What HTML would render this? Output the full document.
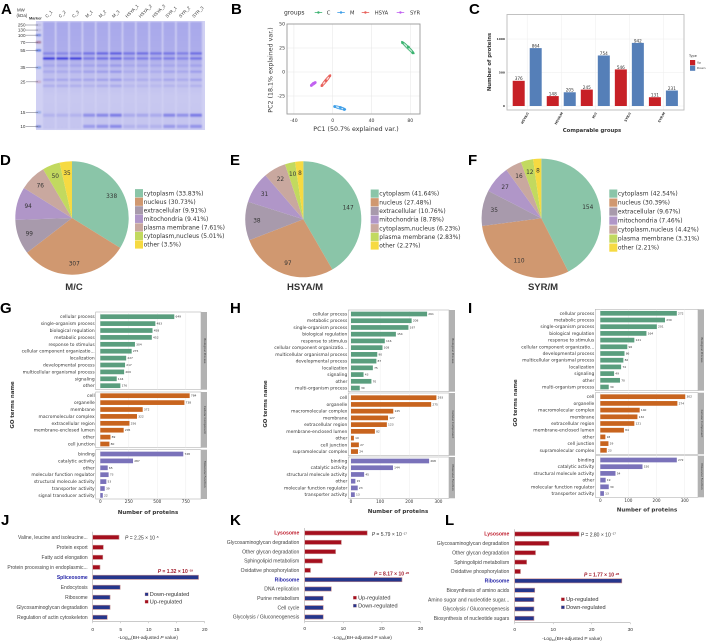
<!DOCTYPE html>
<html lang="en">
<head>
<meta charset="utf-8">
<title>Proteomics figure</title>
<style>
html,body{margin:0;padding:0;background:#fff;width:708px;height:644px;overflow:hidden}
svg{display:block;filter:blur(0.25px)}
text{font-family:"DejaVu Sans","Liberation Sans",sans-serif;fill:#333}
.lib text,text.lib{font-family:"Liberation Sans",sans-serif}
</style>
</head>
<body>
<svg id="figure" width="708" height="644" viewBox="0 0 708 644" xmlns="http://www.w3.org/2000/svg">
<defs>
<linearGradient id="laneGrad" x1="0" y1="0" x2="0" y2="1">
<stop offset="0" stop-color="#a8a8ea"/><stop offset="0.33" stop-color="#aeaeeb"/><stop offset="0.45" stop-color="#bcbcee"/><stop offset="0.7" stop-color="#c8c8f0"/><stop offset="1" stop-color="#c4c4ef"/>
</linearGradient>
<filter id="gelBlur" x="-5%" y="-5%" width="110%" height="110%"><feGaussianBlur stdDeviation="0.9"/></filter>
</defs>
<g id="panel-a"></g>
<g id="panel-b"></g>
<g id="panel-c"></g>
<g id="panel-d"></g>
<g id="panel-e"></g>
<g id="panel-f"></g>
<g id="panel-g"></g>
<g id="panel-h"></g>
<g id="panel-i"></g>
<g id="panel-j"></g>
<g id="panel-k"></g>
<g id="panel-l"></g>
<g id="panel-letters" font-weight="bold">
<text x="1" y="14" font-size="15" style="font-family:'Liberation Sans',sans-serif;fill:#000">A</text>
<text x="231" y="14" font-size="15" style="font-family:'Liberation Sans',sans-serif;fill:#000">B</text>
<text x="469" y="14" font-size="15" style="font-family:'Liberation Sans',sans-serif;fill:#000">C</text>
<text x="0" y="165" font-size="15" style="font-family:'Liberation Sans',sans-serif;fill:#000">D</text>
<text x="230" y="165" font-size="15" style="font-family:'Liberation Sans',sans-serif;fill:#000">E</text>
<text x="468" y="165" font-size="15" style="font-family:'Liberation Sans',sans-serif;fill:#000">F</text>
<text x="0" y="313" font-size="15" style="font-family:'Liberation Sans',sans-serif;fill:#000">G</text>
<text x="230" y="313" font-size="15" style="font-family:'Liberation Sans',sans-serif;fill:#000">H</text>
<text x="468" y="313" font-size="15" style="font-family:'Liberation Sans',sans-serif;fill:#000">I</text>
<text x="1" y="525" font-size="15" style="font-family:'Liberation Sans',sans-serif;fill:#000">J</text>
<text x="230" y="525" font-size="15" style="font-family:'Liberation Sans',sans-serif;fill:#000">K</text>
<text x="445" y="525" font-size="15" style="font-family:'Liberation Sans',sans-serif;fill:#000">L</text>
</g>
</svg>
<script>
/* ---------- Panel A data ---------- */
const ladderKDa = [250,130,100,70,55,35,25,15,10];
const ladderRf = [0,0.05,0.1,0.17,0.25,0.42,0.56,0.86,1];
const laneNames = ['C_1','C_2','C_3','M_1','M_2','M_3','HSYA_1','HSYA_2','HSYA_3','SYR_1','SYR_2','SYR_3'];
const laneLoad = [1,1,1,0.85,1,1.2,0.9,1,0.9,1,0.8,1.15];
const bandRf = [0.28,0.33,0.40,0.46,0.54,0.60,0.885,0.995];
const bandC = [0.3,0.95,0.14,0.14,0.18,0.14,0.12,0];
const bandM = [0.55,0.5,0.18,0.22,0.22,0.14,0.4,0.32];
const bandHSYA = [0.5,0.4,0.14,0.14,0.14,0.08,0.2,0.12];
const bandSYR = [0.45,0.4,0.14,0.18,0.18,0.1,0.42,0.28];

/* ---------- Panel B data ---------- */
const pcaGroups = ['C','M','HSYA','SYR'];
const pcaColors = ['#3cb371','#3f9fe8','#e8605a','#c060f0'];
const pcaC1 = [72,78,82.5];
const pcaC2 = [30.5,26,20];
const pcaM1 = [2,8,12];
const pcaM2 = [-36,-37,-39];
const pcaH1 = [-3,-7,-11];
const pcaH2 = [-4,-9,-14];
const pcaS1 = [-22,-20,-18];
const pcaS2 = [-14,-12,-11];
const pcaXTicks = [-40,0,40,80];
const pcaYTicks = [-25,0,25,50];

/* ---------- Panel C data ---------- */
const compareGroups = ['HSYA/C','HSYA/M','M/C','SYR/C','SYR/M'];
const upCounts = [376,148,245,546,131];
const downCounts = [864,205,754,942,231];
const countTicks = [0,500,1000];

/* ---------- Pies ---------- */
const pieCatsD = ['cytoplasm (33.83%)','nucleus (30.73%)','extracellular (9.91%)','mitochondria (9.41%)','plasma membrane (7.61%)','cytoplasm,nucleus (5.01%)','other (3.5%)'];
const pieValsD = [338,307,99,94,76,50,35];
const pieCatsE = ['cytoplasm (41.64%)','nucleus (27.48%)','extracellular (10.76%)','mitochondria (8.78%)','cytoplasm,nucleus (6.23%)','plasma membrane (2.83%)','other (2.27%)'];
const pieValsE = [147,97,38,31,22,10,8];
const pieCatsF = ['cytoplasm (42.54%)','nucleus (30.39%)','extracellular (9.67%)','mitochondria (7.46%)','cytoplasm,nucleus (4.42%)','plasma membrane (3.31%)','other (2.21%)'];
const pieValsF = [154,110,35,27,16,12,8];

/* ---------- GO data ---------- */
const gBpTerms = ['cellular process','single-organism process','biological regulation','metabolic process','response to stimulus','cellular component organizatio...','localization','developmental process','multicellular organismal process','signaling','other'];
const gBpVals = [649,483,458,452,304,275,227,217,209,144,176];
const gCcTerms = ['cell','organelle','membrane','macromolecular complex','extracellular region','membrane-enclosed lumen','other','cell junction'];
const gCcVals = [784,738,372,322,256,205,89,80];
const gMfTerms = ['binding','catalytic activity','other','molecular function regulator','structural molecule activity','transporter activity','signal transducer activity'];
const gMfVals = [728,287,65,73,53,39,22];
const gTicks = [0,250,500,750];

const hBpTerms = ['cellular process','metabolic process','single-organism process','biological regulation','response to stimulus','cellular component organizatio...','multicellular organismal process','developmental process','localization','signaling','other','multi-organism process'];
const hBpVals = [261,208,197,154,116,108,90,87,75,43,70,30];
const hCcTerms = ['cell','organelle','macromolecular complex','membrane','extracellular region','membrane-enclosed lumen','other','cell junction','supramolecular complex'];
const hCcVals = [293,275,145,127,123,82,10,27,24];
const hMfTerms = ['binding','catalytic activity','structural molecule activity','other','molecular function regulator','transporter activity'];
const hMfVals = [268,144,45,15,23,13];
const hTicks = [0,100,200,300];

const iBpTerms = ['cellular process','metabolic process','single-organism process','biological regulation','response to stimulus','cellular component organizatio...','developmental process','multicellular organismal process','localization','signaling','other','multi-organism process'];
const iBpVals = [272,230,201,164,121,96,86,82,74,49,70,30];
const iCcTerms = ['cell','organelle','macromolecular complex','membrane','extracellular region','membrane-enclosed lumen','other','cell junction','supramolecular complex'];
const iCcVals = [302,274,140,132,121,84,18,29,23];
const iMfTerms = ['binding','catalytic activity','structural molecule activity','other','molecular function regulator','transporter activity'];
const iMfVals = [272,150,54,19,30,13];
const iTicks = [0,100,200,300];

/* ---------- KEGG data ---------- */
const jTerms = ['Valine, leucine and isoleucine...','Protein export','Fatty acid elongation','Protein processing in endoplasmic...','Spliceosome','Endocytosis','Ribosome','Glycosaminoglycan degradation','Regulation of actin cytoskeleton'];
const jVals = [4.7,1.9,1.8,1.3,18.9,4.9,3.1,3.1,2.6];
const jUpFlags = [1,1,1,1,0,0,0,0,0];
const jTicks = [0,5,10,15,20];
const kTerms = ['Lysosome','Glycosaminoglycan degradation','Other glycan degradation','Sphingolipid metabolism','Oxidative phosphorylation','Ribosome','DNA replication','Purine metabolism','Cell cycle','Glycolysis / Gluconeogenesis'];
const kVals = [16.2,9.5,8,4.6,1.5,25.2,6.9,4.8,4.8,4.8];
const kUpFlags = [1,1,1,1,1,0,0,0,0,0];
const kTicks = [0,10,20,30];
const lTerms = ['Lysosome','Glycosaminoglycan degradation','Other glycan degradation','Sphingolipid metabolism','Oxidative phosphorylation','Ribosome','Biosynthesis of amino acids','Amino sugar and nucleotide sugar...','Glycolysis / Gluconeogenesis','Biosynthesis of nucleotide sugars'];
const lVals = [16.7,8.9,5.4,3.1,1.5,27.8,5.2,5,5,5];
const lUpFlags = [1,1,1,1,1,0,0,0,0,0];
const lTicks = [0,10,20,30];

/* ---------- helpers ---------- */
const NS = 'http://www.w3.org/2000/svg';
function add(tag, attrs, parent, content){
  const el = document.createElementNS(NS, tag);
  for (const k in attrs) el.setAttribute(k, attrs[k]);
  if (content !== undefined) el.textContent = content;
  parent.appendChild(el);
  return el;
}
function linear(d0, d1, r0, r1){
  return v => r0 + (v - d0) * (r1 - r0) / (d1 - d0);
}
function band(first, step){
  return i => first + i * step;
}
function panel(id){ return document.getElementById(id); }

/* ---------- Panel A: gel ---------- */
(function(){
  const g = panel('panel-a');
  const top = 25, h = 101.5;
  const yRf = linear(0, 1, top, top + h);
  const laneX = band(49, 13.36);
  const bg = add('rect',{x:36,y:21,width:169,height:109,fill:'#d0d0f3'},g);
  
  
  const soft = add('g',{filter:'url(#gelBlur)'},g);
  
  
  const groupBands = [bandC,bandM,bandHSYA,bandSYR];
  laneNames.forEach((nm,i)=>{
    const cx = laneX(i);
    const lane = add('rect',{x:cx-5.9,y:22,width:11.8,height:107,fill:'url(#laneGrad)'},soft);
    
    
    const arr = groupBands[Math.floor(i/3)];
    arr.forEach((a,j)=>{
      const op = Math.min(1, a * laneLoad[i]);
      if (op <= 0) return;
      const b = add('rect',{x:cx-5.9,y:yRf(bandRf[j])-1.2,width:11.8,height:j>=6?3.2:2.4,fill:'#3030dc','fill-opacity':op},soft);
      
      
    });
    const t = add('text',{x:cx-2,y:18,'font-size':4.4,transform:`rotate(-45 ${cx-2} 18)`,fill:'#333'},g,nm);
    t.setAttribute('class','lib');
    
    
  });
  const markerColors = ['#b8b8e0','#b8b8e0','#6a80e0','#a06a90','#5070e0','#80a0e8','#c8a8c8','#90a8e8','#7080d0'];
  ladderKDa.forEach((k,i)=>{
    const y = yRf(ladderRf[i]);
    const dot = add('rect',{x:36,y:y-1,width:5,height:2,fill:markerColors[i]},soft);
    
    
    const tick = add('line',{x1:26,x2:38,y1:y,y2:y,stroke:'#667',"stroke-width":0.5},g);
    
    
    const t = add('text',{x:25.5,y:y+1.6,'font-size':4.6,'text-anchor':'end',fill:'#333'},g,k);
    t.setAttribute('class','lib');
    
    
  });
  const mw = add('text',{x:17,y:11.5,'font-size':4.4,fill:'#333'},g,'MW');
  mw.setAttribute('class','lib');
  
  
  const kda = add('text',{x:16.5,y:17,'font-size':4.4,fill:'#333'},g,'(kDa)');
  kda.setAttribute('class','lib');
  
  
  const mk = add('text',{x:29,y:19.5,'font-size':3.9,'font-weight':'bold',fill:'#333'},g,'Marker');
  mk.setAttribute('class','lib');
  
  
})();

/* ---------- Panel B: PCA ---------- */
(function(){
  const g = panel('panel-b');
  const x = linear(0, 40, 332.7, 371.5);
  const y = linear(0, 25, 72, 48);
  const L = 287, R = 420, T = 24, B = 114;
  pcaXTicks.forEach(v=>{
    const gl = add('line',{x1:x(v),x2:x(v),y1:T,y2:B,stroke:'#e8e8e8','stroke-width':0.6},g);
    
    
    const t = add('text',{x:x(v),y:122,'font-size':4.6,'text-anchor':'middle',fill:'#666'},g,v);
    
    
  });
  pcaYTicks.forEach(v=>{
    const gl = add('line',{x1:L,x2:R,y1:y(v),y2:y(v),stroke:'#e8e8e8','stroke-width':0.6},g);
    
    
    const t = add('text',{x:285,y:y(v)+1.6,'font-size':4.6,'text-anchor':'end',fill:'#666'},g,v);
    
    
  });
  const series = [[pcaC1,pcaC2],[pcaM1,pcaM2],[pcaH1,pcaH2],[pcaS1,pcaS2]];
  series.forEach((s,gi)=>{
    const c = pcaColors[gi];
    const px = s[0].map(x), py = s[1].map(y);
    const mx = px.reduce((a,b)=>a+b,0)/px.length, my = py.reduce((a,b)=>a+b,0)/py.length;
    const dx = px[px.length-1]-px[0], dy = py[py.length-1]-py[0];
    const len = Math.hypot(dx,dy), ang = Math.atan2(dy,dx)*180/Math.PI;
    const e = add('ellipse',{cx:mx,cy:my,rx:len*0.62,ry:1.2,fill:c,'fill-opacity':0.25,stroke:c,'stroke-width':0.8,transform:`rotate(${ang} ${mx} ${my})`},g);
    
    
    px.forEach((v,i)=>{
      const p = add('circle',{cx:v,cy:py[i],r:1.4,fill:c},g);
      
      
    });
  });
  const fr = add('rect',{x:L,y:T,width:R-L,height:B-T,fill:'none',stroke:'#999','stroke-width':0.9},g);
  
  
  const gt = add('text',{x:284,y:14.5,'font-size':6,fill:'#333'},g,'groups');
  
  
  [[314.7,326.7],[337.3,350],[361.7,374.7],[396.7,410]].forEach((p,i)=>{
    const ln = add('line',{x1:p[0],x2:p[0]+7.5,y1:12.5,y2:12.5,stroke:pcaColors[i],'stroke-width':0.8},g);
    
    
    const pt = add('circle',{cx:p[0]+3.7,cy:12.5,r:1.2,fill:pcaColors[i]},g);
    
    
    const t = add('text',{x:p[1],y:14.5,'font-size':5.2,fill:'#333'},g,pcaGroups[i]);
    
    
  });
  const xt = add('text',{x:356,y:131,'font-size':6.3,'text-anchor':'middle',fill:'#333'},g,'PC1 (50.7% explained var.)');
  
  
  const yt = add('text',{x:272.5,y:70,'font-size':6.3,'text-anchor':'middle',transform:'rotate(-90 272.5 70)',fill:'#333'},g,'PC2 (18.1% explained var.)');
  
  
})();

/* ---------- Panel C: counts ---------- */
(function(){
  const g = panel('panel-c');
  const y = linear(0, 1000, 106, 39);
  const L = 507, R = 684, T = 14.5, B = 110;
  const groupX = band(527.2, 34.05);
  countTicks.forEach(v=>{
    const gl = add('line',{x1:L,x2:R,y1:y(v),y2:y(v),stroke:'#eee','stroke-width':0.5},g);
    
    
    const t = add('text',{x:505,y:y(v)+1,'font-size':3,'font-weight':'bold','text-anchor':'end',fill:'#333'},g,v);
    
    
  });
  compareGroups.forEach((nm,i)=>{
    const cx = groupX(i);
    const gl = add('line',{x1:cx,x2:cx,y1:T,y2:B,stroke:'#eee','stroke-width':0.5},g);
    
    
    const up = add('rect',{x:cx-14.5,y:y(upCounts[i]),width:12,height:y(0)-y(upCounts[i]),fill:'#c72026'},g);
    
    
    const dn = add('rect',{x:cx+2.5,y:y(downCounts[i]),width:12,height:y(0)-y(downCounts[i]),fill:'#557fb8'},g);
    
    
    const ut = add('text',{x:cx-8.5,y:y(upCounts[i])-0.6,'font-size':4.2,'text-anchor':'middle',fill:'#333'},g,upCounts[i]);
    
    
    const dt = add('text',{x:cx+8.5,y:y(downCounts[i])-0.6,'font-size':4.2,'text-anchor':'middle',fill:'#333'},g,downCounts[i]);
    
    
    const lab = add('text',{x:cx+2,y:113,'font-size':3.2,'font-weight':'bold','text-anchor':'end',transform:`rotate(-60 ${cx+2} 113)`,fill:'#333'},g,nm);
    
    
  });
  const fr = add('rect',{x:L,y:T,width:R-L,height:B-T,fill:'none',stroke:'#bbb','stroke-width':0.9},g);
  
  
  const xt = add('text',{x:592,y:132,'font-size':5.3,'font-weight':'bold','text-anchor':'middle',fill:'#222'},g,'Comparable groups');
  
  
  const yt = add('text',{x:491,y:62,'font-size':5.3,'font-weight':'bold','text-anchor':'middle',transform:'rotate(-90 491 62)',fill:'#222'},g,'Number of proteins');
  
  
  const lt = add('text',{x:689,y:57,'font-size':3.4,fill:'#333'},g,'Type');
  
  
  const s1 = add('rect',{x:690,y:60,width:5.2,height:5.2,fill:'#c72026'},g);
  
  
  const s2 = add('rect',{x:690,y:65.6,width:5.2,height:5.2,fill:'#557fb8'},g);
  
  
  const t1 = add('text',{x:697,y:63.6,'font-size':3,fill:'#333'},g,'Up');
  
  
  const t2 = add('text',{x:697,y:69.2,'font-size':3,fill:'#333'},g,'Down');
  
  
})();

/* ---------- Pies ---------- */
function drawPie(id, vals, cats, cfg){
  const g = panel(id);
  const colors = ['#8ac5a8','#d09870','#a89aac','#b096c8','#c9a89f','#c2d95f','#f6da42'];
  const total = vals.reduce((a,b)=>a+b,0);
  let a0 = 0;
  vals.forEach((v,i)=>{
    const a1 = a0 + v/total*Math.PI*2;
    const p = (a)=>[cfg.cx+cfg.r*Math.sin(a), cfg.cy-cfg.r*Math.cos(a)];
    const s = p(a0), e = p(a1);
    const d = `M${cfg.cx} ${cfg.cy}L${s[0]} ${s[1]}A${cfg.r} ${cfg.r} 0 ${a1-a0>Math.PI?1:0} 1 ${e[0]} ${e[1]}Z`;
    const sl = add('path',{d:d,fill:colors[i]},g);
    
    
    const m = (a0+a1)/2;
    const t = add('text',{x:cfg.cx+cfg.r*0.8*Math.sin(m),y:cfg.cy-cfg.r*0.8*Math.cos(m)+2,'font-size':5.8,'text-anchor':'middle',fill:'#333'},g,v);
    
    
    a0 = a1;
    const row = cfg.ly + i*cfg.step;
    const sw = add('rect',{x:cfg.lx,y:row-4.2,width:8,height:8.2,fill:colors[i]},g);
    
    
    const lt = add('text',{x:cfg.lx+8.6,y:row+2,'font-size':cfg.fs,fill:'#333'},g,cats[i]);
    
    
  });
  const tt = add('text',{x:cfg.tx,y:cfg.ty,'font-size':9.5,'font-weight':'bold','text-anchor':'middle',fill:'#222'},g,cfg.title);
  tt.setAttribute('class','lib');
  
  
}
drawPie('panel-d', pieValsD, pieCatsD, {cx:72,cy:218,r:56.7,lx:135,ly:193.3,step:8.55,fs:5.95,tx:74,ty:290,title:'M/C'});
drawPie('panel-e', pieValsE, pieCatsE, {cx:303.3,cy:219.3,r:58,lx:370.7,ly:193.7,step:8.65,fs:5.95,tx:305,ty:290,title:'HSYA/M'});
drawPie('panel-f', pieValsF, pieCatsF, {cx:541.3,cy:218.3,r:59.7,lx:609.3,ly:193.7,step:9,fs:5.95,tx:543,ty:290,title:'SYR/M'});

/* ---------- GO bars ---------- */
function drawGO(id, groups, ticks, cfg){
  const g = panel(id);
  const x = linear(0, ticks[1], cfg.x0, cfg.x0 + cfg.tickPx);
  const colors = ['#5a9e7e','#c8641e','#7a72ba'];
  const strips = ['Biological Process','Cellular Component','Molecular Function'];
  groups.forEach((grp,gi)=>{
    const f = cfg.facets[gi];
    const y = band(f.first, cfg.step);
    const bgr = add('rect',{x:cfg.L,y:f.top,width:cfg.R-cfg.L,height:f.bottom-f.top,fill:'#fff',stroke:'#b5b5b5','stroke-width':0.6},g);
    
    
    ticks.forEach(v=>{
      const gl = add('line',{x1:x(v),x2:x(v),y1:f.top,y2:f.bottom,stroke:'#ededed','stroke-width':0.5},g);
      
      
    });
    const st = add('rect',{x:cfg.R,y:f.top,width:6,height:f.bottom-f.top,fill:'#b2b2b2'},g);
    
    
    const mid = (f.top+f.bottom)/2;
    const sl = add('text',{x:cfg.R+3,y:mid,'font-size':2.8,'text-anchor':'middle',transform:`rotate(90 ${cfg.R+3} ${mid})`,fill:'#222'},g,strips[gi]);
    
    
    grp[0].forEach((term,i)=>{
      const v = grp[1][i], cy = y(i);
      const b = add('rect',{x:x(0),y:cy-2.35,width:x(v)-x(0),height:4.7,fill:colors[gi]},g);
      
      
      const vt = add('text',{x:x(v)+1.2,y:cy+1,'font-size':2.9,fill:'#333'},g,v);
      
      
      const lb = add('text',{x:cfg.L-1,y:cy+1.5,'font-size':cfg.fs,'text-anchor':'end',fill:'#3c3c3c'},g,term);
      
      
    });
  });
  ticks.forEach(v=>{
    const t = add('text',{x:x(v),y:cfg.tickY,'font-size':4.2,'text-anchor':'middle',fill:'#444'},g,v);
    
    
  });
  const xt = add('text',{x:cfg.xtx,y:cfg.xty,'font-size':5.5,'font-weight':'bold','text-anchor':'middle',fill:'#222'},g,'Number of proteins');
  
  
  const yt = add('text',{x:cfg.ytx,y:cfg.yty,'font-size':5.4,'font-weight':'bold','text-anchor':'middle',transform:`rotate(-90 ${cfg.ytx} ${cfg.yty})`,fill:'#222'},g,'GO terms name');
  
  
}
drawGO('panel-g',[[gBpTerms,gBpVals],[gCcTerms,gCcVals],[gMfTerms,gMfVals]],gTicks,{
  x0:100.3,tickPx:28.5,L:95.7,R:201,step:6.9,fs:4.45,tickY:503,xtx:148,xty:514,ytx:14,yty:405,
  facets:[{top:312,bottom:389.7,first:316.7},{top:392,bottom:447.7,first:395.7},{top:449.7,bottom:499,first:454}]});
drawGO('panel-h',[[hBpTerms,hBpVals],[hCcTerms,hCcVals],[hMfTerms,hMfVals]],hTicks,{
  x0:351,tickPx:29.15,L:348.3,R:449,step:6.73,fs:4.45,tickY:503,xtx:398,xty:513,ytx:267,yty:404,
  facets:[{top:310,bottom:391.7,first:314},{top:393,bottom:455.7,first:397.7},{top:457,bottom:498.3,first:461}]});
drawGO('panel-i',[[iBpTerms,iBpVals],[iCcTerms,iCcVals],[iMfTerms,iMfVals]],iTicks,{
  x0:600.3,tickPx:28.13,L:595.3,R:698,step:6.7,fs:4.45,tickY:502,xtx:647,xty:511.5,ytx:517,yty:403,
  facets:[{top:309.3,bottom:390.7,first:313.3},{top:392.7,bottom:454.3,first:396.7},{top:455.7,bottom:497.3,first:460}]});

/* ---------- KEGG bars ---------- */
function drawKegg(id, terms, vals, flags, ticks, cfg){
  const g = panel(id);
  const x = linear(0, ticks[1], cfg.x0, cfg.x0 + cfg.tickPx);
  const y = band(cfg.first, cfg.step);
  const ax = add('line',{x1:cfg.x0,x2:cfg.x0,y1:cfg.top,y2:cfg.bottom,stroke:'#aaa','stroke-width':0.6},g);
  
  
  const ax2 = add('line',{x1:cfg.x0,x2:x(ticks[ticks.length-1]),y1:cfg.bottom,y2:cfg.bottom,stroke:'#aaa','stroke-width':0.6},g);
  
  
  ticks.forEach(v=>{
    const tk = add('line',{x1:x(v),x2:x(v),y1:cfg.bottom,y2:cfg.bottom+1.5,stroke:'#aaa','stroke-width':0.5},g);
    
    
    const t = add('text',{x:x(v),y:cfg.tickY,'font-size':4.9,'text-anchor':'middle',class:'lib',fill:'#444'},g,v);
    
    
  });
  terms.forEach((term,i)=>{
    const cy = y(i), up = flags[i] === 1;
    const b = add('rect',{x:x(0),y:cy-2.1,width:x(vals[i])-x(0),height:4.2,fill:up?'#a50f1e':'#25368c',stroke:'#c99090','stroke-width':0.6},g);
    
    
    const hl = cfg.highlight[term];
    const lb = add('text',{x:cfg.labelX,y:cy+1.7,'font-size':cfg.fs,'text-anchor':'end',class:'lib','font-weight':hl?'bold':'normal',style:'fill:'+(hl||'#444')},g,term);
    
    
  });
  cfg.notes.forEach(n=>{
    const t = add('text',{x:n.x,y:n.y,'font-size':5,class:'lib','font-weight':n.bold?'bold':'normal',style:'fill:'+(n.bold?'#a01828':'#333')},g);
    
    
    const pi = add('tspan',{'font-style':'italic'},t,'P');
    
    
    const mant = add('tspan',{},t,' =  '+n.m+' × 10');
    
    
    const ex = add('tspan',{dy:-1.6,'font-size':3},t,' '+n.e);
    
    
  });
  cfg.legend.forEach((lg,i)=>{
    const ry = cfg.legY + i*cfg.legStep;
    const s = add('rect',{x:cfg.legX,y:ry-1.6,width:3.2,height:3.2,fill:lg[1],stroke:'#c99090','stroke-width':0.3},g);
    
    
    const t = add('text',{x:cfg.legX+4.8,y:ry+1.9,'font-size':5.6,class:'lib',fill:'#444'},g,lg[0]);
    
    
  });
  const xt = add('text',{x:cfg.xtx,y:cfg.xty,'font-size':4.8,'text-anchor':'middle',class:'lib',fill:'#444'},g);
  
  
  const x1 = add('tspan',{},xt,'-Log');
  
  
  const x2 = add('tspan',{'font-size':3,dy:0.8},xt,'10');
  
  
  const x3 = add('tspan',{dy:-0.8},xt,'(BH-adjusted ');
  
  
  const x4 = add('tspan',{'font-style':cfg.italicP?'italic':'normal'},xt,'P');
  
  
  const x5 = add('tspan',{},xt,' value)');
  
  
}
drawKegg('panel-j',jTerms,jVals,jUpFlags,jTicks,{
  x0:92.7,tickPx:28,first:537.3,step:10,top:531.7,bottom:621.7,labelX:87.7,fs:5,tickY:631,xtx:148,xty:639,italicP:true,
  highlight:{'Spliceosome':'#2626a8'},
  notes:[{x:125,y:539.5,m:'2.25',e:'-5',bold:false},{x:157.7,y:573,m:'1.32',e:'-19',bold:true}],
  legend:[['Down-regulated','#25368c'],['Up-regulated','#a50f1e']],legX:145,legY:594.3,legStep:7.4});
drawKegg('panel-k',kTerms,kVals,kUpFlags,kTicks,{
  x0:304.7,tickPx:38.6,first:533,step:9.33,top:528,bottom:621.7,labelX:299.3,fs:5.1,tickY:630,xtx:362,xty:639,italicP:false,
  highlight:{'Lysosome':'#c02030','Ribosome':'#2626a8'},
  notes:[{x:371.7,y:536,m:'5.79',e:'-17',bold:false},{x:374,y:575.5,m:'8.17',e:'-26',bold:true}],
  legend:[['Up-regulated','#a50f1e'],['Down-regulated','#25368c']],legX:353.3,legY:597.7,legStep:8});
drawKegg('panel-l',lTerms,lVals,lUpFlags,lTicks,{
  x0:514.7,tickPx:38.53,first:534,step:9.37,top:529.3,bottom:622.7,labelX:509.3,fs:5.1,tickY:631,xtx:572,xty:640,italicP:false,
  highlight:{'Lysosome':'#c02030','Ribosome':'#2626a8'},
  notes:[{x:580.7,y:536.3,m:'2.80',e:'-17',bold:false},{x:584,y:576.5,m:'1.77',e:'-28',bold:true}],
  legend:[['Up-regulated','#a50f1e'],['Down-regulated','#25368c']],legX:561.3,legY:599.3,legStep:8});
</script>
</body>
</html>
